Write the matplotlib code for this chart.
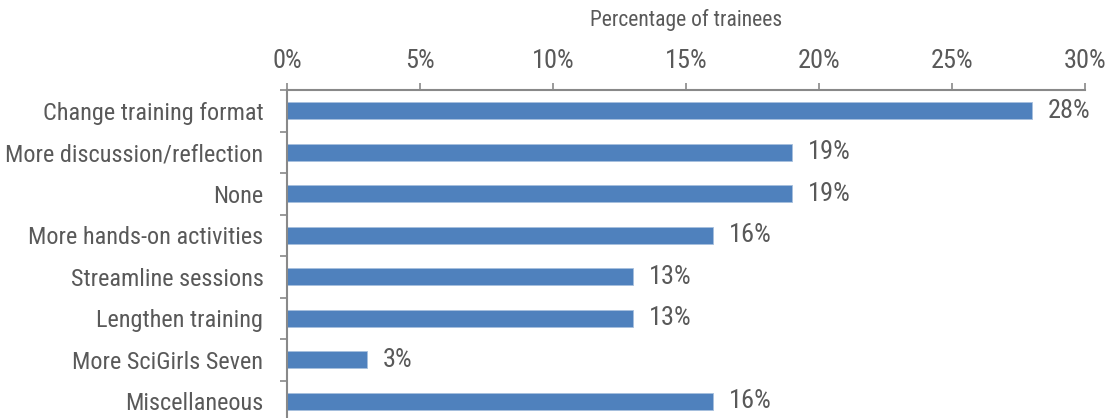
import matplotlib.pyplot as plt
import numpy as np

# Data
categories = [
    "Change training format",
    "More discussion/reflection",
    "None",
    "More hands-on activities",
    "Streamline sessions",
    "Lengthen training",
    "More SciGirls Seven",
    "Miscellaneous",
]
percent = [28, 19, 19, 16, 13, 13, 3, 16]
x_ticks = [0, 5, 10, 15, 20, 25, 30]

# condensed face, close to the Arial Narrow of the original
plt.rcParams['font.family'] = ['Liberation Sans Narrow', 'Roboto Condensed', 'Liberation Sans', 'DejaVu Sans']
text_color = '#595959'
axis_color = '#898989'
bar_color = '#4F81BD'

fig = plt.figure(figsize=(11.14, 4.18), dpi=100)
ax = fig.add_axes([287 / 1114, -4 / 418, (1085 - 287) / 1114, (422 - 90) / 418])

y = np.arange(len(categories))
ax.barh(y, percent, height=0.4, color=bar_color, edgecolor='#A7C0DE', linewidth=0.6)

# Value labels
for yi, v in zip(y, percent):
    ax.annotate(f"{v}%", (v, yi), xytext=(11.5, 0), textcoords='offset points',
                va='center', ha='left', fontsize=19, color=text_color)

ax.set_xlim(0, 30)
ax.set_ylim(len(categories) - 0.5, -0.5)

# x axis on top
ax.xaxis.tick_top()
ax.xaxis.set_label_position('top')
ax.set_xticks(x_ticks)
ax.set_xticklabels([f"{t}%" for t in x_ticks])
ax.tick_params(axis='x', which='major', direction='out', length=5, width=1.2,
               color=axis_color, labelsize=19, labelcolor=text_color, pad=7)
ax.set_xlabel("Percentage of trainees", fontsize=15.5, color=text_color, labelpad=17)

# y axis: labels at centers, tick marks at boundaries
ax.set_yticks(y)
ax.set_yticklabels(categories)
ax.set_yticks(np.arange(len(categories) + 1) - 0.5, minor=True)
ax.tick_params(axis='y', which='major', length=0, labelsize=17.5,
               labelcolor=text_color, pad=17)
ax.tick_params(axis='y', which='minor', direction='out', length=5, width=1.2,
               color=axis_color)

for side in ['right', 'bottom']:
    ax.spines[side].set_visible(False)
for side in ['left', 'top']:
    ax.spines[side].set_color(axis_color)
    ax.spines[side].set_linewidth(1.5)

fig.savefig("out.png", dpi=100)
